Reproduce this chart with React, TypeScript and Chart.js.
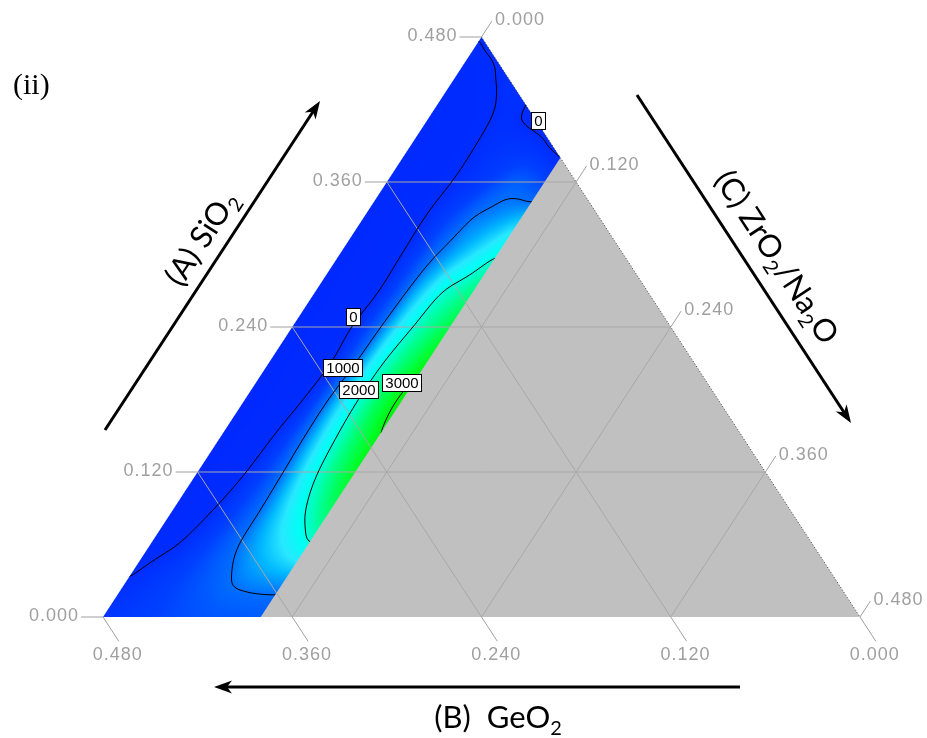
import { useEffect, useRef } from 'react';
import { Chart, registerables } from 'chart.js';

Chart.register(...registerables);

// Ternary composition: SiO2 (A) + GeO2 (B) + ZrO2/Na2O (C) = 0.48
const TOTAL = 0.48;
const TICK_VALUES = [0, 0.12, 0.24, 0.36, 0.48];
const GRID_VALUES = [0.12, 0.24, 0.36];
const MEASURED_C_MAX = 0.1; // samples only cover ZrO2/Na2O <= 0.10

// Response surface on a lattice: rows follow SiO2, columns follow ZrO2/Na2O
const SIO2_NODES = [0, 0.03, 0.06, 0.09, 0.12, 0.15, 0.18, 0.21, 0.24, 0.27, 0.3, 0.33, 0.36, 0.39, 0.42, 0.45, 0.48];
const ZRO2_NODES = [0, 0.01, 0.02, 0.03, 0.04, 0.05, 0.06, 0.07, 0.08, 0.09, 0.1];
const ROW_000 = [250, 320, 400, 480, 560, 640, 700, 740, 770, 790, 800];
const ROW_003 = [30, 175, 320, 465, 610, 755, 900, 1045, 1120, 1170, 1200];
const ROW_006 = [-250, -111, 53, 316, 579, 842, 1086, 1302, 1518, 1734, 1950];
const ROW_009 = [-600, -374, -147, 121, 466, 810, 1161, 1518, 1875, 2197, 2500];
const ROW_012 = [-800, -542, -284, -26, 383, 809, 1256, 1721, 2142, 2496, 2850];
const ROW_015 = [-900, -639, -378, -117, 297, 838, 1350, 1850, 2259, 2630, 2990];
const ROW_018 = [-1000, -737, -474, -211, 137, 822, 1387, 1911, 2328, 2723, 3100];
const ROW_021 = [-950, -709, -469, -228, 33, 686, 1302, 1884, 2257, 2579, 2930];
const ROW_024 = [-900, -666, -432, -199, 86, 657, 1208, 1729, 2126, 2388, 2650];
const ROW_027 = [-850, -637, -425, -212, 0, 568, 1102, 1530, 1957, 2166, 2350];
const ROW_030 = [-800, -597, -395, -192, 23, 482, 940, 1203, 1450, 1700, 1950];
const ROW_033 = [-700, -521, -341, -162, 33, 367, 700, 1011, 1124, 1237, 1350];
const ROW_036 = [-600, -450, -300, -150, -15, 150, 350, 600, 800, 750, 550];
const ROW_039 = [-500, -380, -260, -140, -15, 120, 200, 200, 120, -50, -200];
const ROW_042 = [-400, -300, -200, -100, 20, 100, -60, -200, -300, -400, -500];
const ROW_045 = [-250, -150, -40, 60, 150, 120, -60, -200, -300, -400, -500];
const ROW_048 = [20, 100, 150, 170, 150, 100, -60, -200, -300, -400, -500];
const RESPONSE_ROWS = [
  ROW_000, ROW_003, ROW_006, ROW_009, ROW_012, ROW_015, ROW_018, ROW_021, ROW_024,
  ROW_027, ROW_030, ROW_033, ROW_036, ROW_039, ROW_042, ROW_045, ROW_048,
];

const CONTOUR_LEVELS = [0, 1000, 2000, 3000];
// contour labels, placed at (SiO2, ZrO2/Na2O)
const LABEL_VALUES = [0, 0, 1000, 2000, 3000];
const LABEL_SIO2 = [0.4111, 0.2485, 0.2066, 0.1883, 0.1943];
const LABEL_ZRO2 = [0.07, 0.0343, 0.0487, 0.0678, 0.0923];

// colour scale
const COLOR_STOPS = [-1000, 0, 500, 1000, 1300, 1600, 1900, 2200, 2500, 2800, 3100];
const COLOR_RGB = [
  [0, 40, 255], [0, 44, 255], [0, 64, 255], [0, 110, 255], [0, 180, 255], [40, 232, 255],
  [0, 255, 245], [0, 255, 170], [0, 255, 100], [0, 255, 45], [0, 240, 10],
];

// placement of the triangle on the canvas
const CANVAS_W = 927;
const CANVAS_H = 738;
const PLOT_LEFT = 103;
const PLOT_RIGHT = 860;
const PLOT_BASE = 617;
const PLOT_APEX = 37;
const X_PER_PX = TOTAL / (PLOT_RIGHT - PLOT_LEFT);
const Y_PER_PX = TOTAL / (PLOT_BASE - PLOT_APEX);
const X_MIN = -PLOT_LEFT * X_PER_PX;
const X_MAX = X_MIN + CANVAS_W * X_PER_PX;
const Y_MAX = PLOT_BASE * Y_PER_PX;
const Y_MIN = Y_MAX - CANVAS_H * Y_PER_PX;

const GRID_COLOR = '#a8a8a8';
const TICK_COLOR = '#a0a0a0';
const TICK_FONT = '18px "Liberation Sans", Arial, sans-serif';
const TITLE_FONT_FAMILY = 'Lato, "Open Sans", sans-serif';
const TITLE_SIZE = 31;

const clamp = (v: number, lo: number, hi: number) => Math.min(Math.max(v, lo), hi);

function cubic(p0: number, p1: number, p2: number, p3: number, t: number) {
  return p1 + 0.5 * t * (p2 - p0 + t * (2 * p0 - 5 * p1 + 4 * p2 - p3 + t * (3 * (p1 - p2) + p3 - p0)));
}

function responseAt(A: number, C: number) {
  const aStep = SIO2_NODES[1] - SIO2_NODES[0];
  const cStep = ZRO2_NODES[1] - ZRO2_NODES[0];
  const na = SIO2_NODES.length - 1;
  const nc = ZRO2_NODES.length - 1;
  const fa = clamp((A - SIO2_NODES[0]) / aStep, 0, na);
  const fc = clamp((C - ZRO2_NODES[0]) / cStep, 0, nc);
  const ia = Math.min(Math.floor(fa), na - 1);
  const ic = Math.min(Math.floor(fc), nc - 1);
  const ta = fa - ia;
  const tc = fc - ic;
  const rowVal = (r: number) => {
    const row = RESPONSE_ROWS[clamp(r, 0, na)];
    const g = (k: number) => row[clamp(k, 0, nc)];
    return cubic(g(ic - 1), g(ic), g(ic + 1), g(ic + 2), tc);
  };
  return cubic(rowVal(ia - 1), rowVal(ia), rowVal(ia + 1), rowVal(ia + 2), ta);
}

function colorFor(v: number) {
  if (v <= COLOR_STOPS[0]) return COLOR_RGB[0];
  const last = COLOR_STOPS.length - 1;
  if (v >= COLOR_STOPS[last]) return COLOR_RGB[last];
  let i = 0;
  while (v > COLOR_STOPS[i + 1]) i++;
  const t = (v - COLOR_STOPS[i]) / (COLOR_STOPS[i + 1] - COLOR_STOPS[i]);
  const a = COLOR_RGB[i];
  const b = COLOR_RGB[i + 1];
  return [a[0] + (b[0] - a[0]) * t, a[1] + (b[1] - a[1]) * t, a[2] + (b[2] - a[2]) * t];
}

// straight grid lines of the ternary diagram, in (x = C + A/2, y = A)
function gridDatasets() {
  const sets: any[] = [];
  const line = (pts: { x: number; y: number }[]) => ({
    data: pts,
    showLine: true,
    borderColor: GRID_COLOR,
    borderWidth: 1,
    pointRadius: 0,
    fill: false,
  });
  GRID_VALUES.forEach((a) => {
    sets.push(line([{ x: a / 2, y: a }, { x: TOTAL - a / 2, y: a }]));
  });
  GRID_VALUES.forEach((b) => {
    sets.push(line([{ x: TOTAL - b, y: 0 }, { x: (TOTAL - b) / 2, y: TOTAL - b }]));
  });
  GRID_VALUES.forEach((c) => {
    sets.push(line([{ x: c, y: 0 }, { x: c + (TOTAL - c) / 2, y: TOTAL - c }]));
  });
  sets.push({
    data: [{ x: TOTAL / 2, y: TOTAL }, { x: TOTAL, y: 0 }],
    showLine: true,
    borderColor: '#3c3c3c',
    borderWidth: 1,
    borderDash: [1, 2],
    pointRadius: 0,
    fill: false,
  });
  return sets;
}

function pixelMapper(chart: any) {
  const xs = chart.scales.x;
  const ys = chart.scales.y;
  return (A: number, C: number) => ({ x: xs.getPixelForValue(C + A / 2), y: ys.getPixelForValue(A) });
}

function drawArrow(ctx: CanvasRenderingContext2D, x1: number, y1: number, x2: number, y2: number) {
  const ang = Math.atan2(y2 - y1, x2 - x1);
  const head = 18;
  const half = 6.5;
  ctx.save();
  ctx.strokeStyle = '#000';
  ctx.fillStyle = '#000';
  ctx.lineWidth = 3;
  ctx.beginPath();
  ctx.moveTo(x1, y1);
  ctx.lineTo(x2 - Math.cos(ang) * head * 0.7, y2 - Math.sin(ang) * head * 0.7);
  ctx.stroke();
  ctx.beginPath();
  ctx.moveTo(x2, y2);
  ctx.lineTo(x2 - Math.cos(ang) * head - Math.sin(ang) * half, y2 - Math.sin(ang) * head + Math.cos(ang) * half);
  ctx.lineTo(x2 - Math.cos(ang) * head * 0.72, y2 - Math.sin(ang) * head * 0.72);
  ctx.lineTo(x2 - Math.cos(ang) * head + Math.sin(ang) * half, y2 - Math.sin(ang) * head - Math.cos(ang) * half);
  ctx.closePath();
  ctx.fill();
  ctx.restore();
}

// text with subscripts, centred on (cx, cy) and rotated by angle
function drawTitle(
  ctx: CanvasRenderingContext2D,
  parts: { t: string; sub?: boolean }[],
  cx: number,
  cy: number,
  angle: number,
  size: number,
) {
  const big = `${size}px ${TITLE_FONT_FAMILY}`;
  const small = `${Math.round(size * 0.66)}px ${TITLE_FONT_FAMILY}`;
  let width = 0;
  parts.forEach((p) => {
    ctx.font = p.sub ? small : big;
    width += ctx.measureText(p.t).width;
  });
  ctx.save();
  ctx.translate(cx, cy);
  ctx.rotate(angle);
  ctx.fillStyle = '#000';
  ctx.textBaseline = 'alphabetic';
  ctx.textAlign = 'left';
  let x = -width / 2;
  const base = size * 0.35;
  parts.forEach((p) => {
    ctx.font = p.sub ? small : big;
    ctx.fillText(p.t, x, p.sub ? base + size * 0.22 : base);
    x += ctx.measureText(p.t).width;
  });
  ctx.restore();
}

const ternaryPlugin = {
  id: 'ternaryContour',
  beforeDatasetsDraw(chart: any) {
    const { ctx } = chart;
    const xs = chart.scales.x;
    const ys = chart.scales.y;
    const P = pixelMapper(chart);

    // composition range without samples
    const cm = MEASURED_C_MAX - 0.0015;
    const g1 = P(0, cm);
    const g2 = P(0, TOTAL);
    const g3 = P(TOTAL - cm, cm);
    ctx.save();
    ctx.fillStyle = '#c0c0c0';
    ctx.beginPath();
    ctx.moveTo(g1.x, g1.y);
    ctx.lineTo(g2.x, g2.y);
    ctx.lineTo(g3.x, g3.y);
    ctx.closePath();
    ctx.fill();

    // filled response surface
    const bl = P(0, 0);
    const apex = P(TOTAL, 0);
    const br = P(0, MEASURED_C_MAX);
    const tr = P(TOTAL - MEASURED_C_MAX, MEASURED_C_MAX);
    const px0 = Math.floor(bl.x) - 2;
    const px1 = Math.ceil(Math.max(br.x, tr.x)) + 2;
    const py0 = Math.floor(apex.y) - 2;
    const py1 = Math.ceil(bl.y) + 2;
    const w = px1 - px0;
    const h = py1 - py0;
    const pxPerX = xs.getPixelForValue(1) - xs.getPixelForValue(0);
    const pxPerY = ys.getPixelForValue(0) - ys.getPixelForValue(1);
    const side = Math.hypot(apex.x - bl.x, apex.y - bl.y);
    const kC = (pxPerX * Math.abs(apex.y - bl.y)) / side;
    const off = document.createElement('canvas');
    off.width = w;
    off.height = h;
    const octx = off.getContext('2d')!;
    const img = octx.createImageData(w, h);
    for (let j = 0; j < h; j++) {
      const A = ys.getValueForPixel(py0 + j + 0.5);
      for (let i = 0; i < w; i++) {
        const X = xs.getValueForPixel(px0 + i + 0.5);
        const C = X - A / 2;
        const B = TOTAL - A - C;
        const cov =
          clamp(0.5 + C * kC, 0, 1) *
          clamp(0.5 + (MEASURED_C_MAX - C) * kC, 0, 1) *
          clamp(0.5 + B * kC, 0, 1) *
          clamp(0.5 + A * pxPerY, 0, 1);
        if (cov <= 0) continue;
        const rgb = colorFor(responseAt(clamp(A, 0, TOTAL), clamp(C, 0, MEASURED_C_MAX)));
        const k = (j * w + i) * 4;
        img.data[k] = rgb[0];
        img.data[k + 1] = rgb[1];
        img.data[k + 2] = rgb[2];
        img.data[k + 3] = Math.round(cov * 255);
      }
    }
    octx.putImageData(img, 0, 0);
    ctx.drawImage(off, px0, py0);
    ctx.restore();
  },
  afterDatasetsDraw(chart: any) {
    const { ctx } = chart;
    const xs = chart.scales.x;
    const ys = chart.scales.y;
    const P = pixelMapper(chart);

    // contour lines (marching squares on a fine pixel lattice)
    const bl = P(0, 0);
    const apex = P(TOTAL, 0);
    const br = P(0, MEASURED_C_MAX);
    const tr = P(TOTAL - MEASURED_C_MAX, MEASURED_C_MAX);
    const step = 2;
    const gx0 = Math.floor(bl.x) - 4;
    const gy0 = Math.floor(apex.y) - 4;
    const nx = Math.ceil((Math.max(br.x, tr.x) + 4 - gx0) / step) + 1;
    const ny = Math.ceil((bl.y + 4 - gy0) / step) + 1;
    const vals = new Float64Array(nx * ny);
    for (let j = 0; j < ny; j++) {
      const A = ys.getValueForPixel(gy0 + j * step);
      for (let i = 0; i < nx; i++) {
        const X = xs.getValueForPixel(gx0 + i * step);
        vals[j * nx + i] = responseAt(A, X - A / 2);
      }
    }
    ctx.save();
    ctx.beginPath();
    ctx.moveTo(bl.x, bl.y);
    ctx.lineTo(br.x, br.y);
    ctx.lineTo(tr.x, tr.y);
    ctx.lineTo(apex.x, apex.y);
    ctx.closePath();
    ctx.clip();
    ctx.strokeStyle = '#000';
    ctx.lineWidth = 1;
    ctx.lineJoin = 'round';
    CONTOUR_LEVELS.forEach((L) => {
      ctx.beginPath();
      for (let j = 0; j < ny - 1; j++) {
        for (let i = 0; i < nx - 1; i++) {
          const v00 = vals[j * nx + i];
          const v10 = vals[j * nx + i + 1];
          const v01 = vals[(j + 1) * nx + i];
          const v11 = vals[(j + 1) * nx + i + 1];
          const x0 = gx0 + i * step;
          const y0 = gy0 + j * step;
          const pts: { [k: string]: [number, number] } = {};
          const cross = (va: number, vb: number) => (va - L) * (vb - L) < 0;
          if (cross(v00, v10)) pts.t = [x0 + (step * (L - v00)) / (v10 - v00), y0];
          if (cross(v10, v11)) pts.r = [x0 + step, y0 + (step * (L - v10)) / (v11 - v10)];
          if (cross(v01, v11)) pts.b = [x0 + (step * (L - v01)) / (v11 - v01), y0 + step];
          if (cross(v00, v01)) pts.l = [x0, y0 + (step * (L - v00)) / (v01 - v00)];
          const keys = Object.keys(pts);
          const seg = (a: string, b: string) => {
            ctx.moveTo(pts[a][0], pts[a][1]);
            ctx.lineTo(pts[b][0], pts[b][1]);
          };
          if (keys.length === 2) seg(keys[0], keys[1]);
          else if (keys.length === 4) {
            const center = (v00 + v10 + v01 + v11) / 4;
            if (center > L === v00 > L) {
              seg('t', 'r');
              seg('b', 'l');
            } else {
              seg('t', 'l');
              seg('r', 'b');
            }
          }
        }
      }
      ctx.stroke();
    });
    ctx.restore();

    // contour value labels
    ctx.save();
    ctx.font = '15px "Liberation Sans", Arial, sans-serif';
    ctx.textAlign = 'center';
    ctx.textBaseline = 'middle';
    LABEL_VALUES.forEach((v, i) => {
      const p = P(LABEL_SIO2[i], LABEL_ZRO2[i]);
      const txt = String(v);
      const bw = Math.round(ctx.measureText(txt).width + 6);
      const bh = 17;
      const left = Math.round(p.x - bw / 2) + 0.5;
      const topY = Math.round(p.y - bh / 2) + 0.5;
      ctx.fillStyle = '#fff';
      ctx.fillRect(left, topY, bw, bh);
      ctx.strokeStyle = '#000';
      ctx.lineWidth = 1;
      ctx.strokeRect(left, topY, bw, bh);
      ctx.fillStyle = '#000';
      ctx.fillText(txt, left + bw / 2, topY + bh / 2 + 0.5);
    });
    ctx.restore();

    // axis ticks and tick labels
    const leftDir = { x: apex.x - bl.x, y: apex.y - bl.y };
    const ll = Math.hypot(leftDir.x, leftDir.y);
    leftDir.x /= ll;
    leftDir.y /= ll;
    const brc = P(0, TOTAL);
    const rightDir = { x: brc.x - apex.x, y: brc.y - apex.y };
    const rl = Math.hypot(rightDir.x, rightDir.y);
    rightDir.x /= rl;
    rightDir.y /= rl;
    ctx.save();
    ctx.strokeStyle = TICK_COLOR;
    ctx.fillStyle = TICK_COLOR;
    ctx.lineWidth = 1;
    ctx.font = TICK_FONT;
    (ctx as any).letterSpacing = '1px';
    const tick = (base: { x: number; y: number }, dx: number, dy: number, len: number) => {
      const end = { x: base.x + dx * len, y: base.y + dy * len };
      ctx.beginPath();
      ctx.moveTo(base.x, base.y);
      ctx.lineTo(end.x, end.y);
      ctx.stroke();
      return end;
    };
    TICK_VALUES.forEach((v) => {
      const label = v.toFixed(3);
      // SiO2 on the left side
      const ea = tick(P(v, 0), -1, 0, 22);
      ctx.textAlign = 'right';
      ctx.textBaseline = 'middle';
      ctx.fillText(label, ea.x - 2, ea.y - 1);
      // GeO2 along the base
      const eb = tick(P(0, TOTAL - v), rightDir.x, rightDir.y, 29);
      ctx.textAlign = 'center';
      ctx.textBaseline = 'top';
      ctx.fillText(label, eb.x - 1, eb.y + 5);
      // ZrO2/Na2O on the right side
      const ec = tick(P(TOTAL - v, v), leftDir.x, leftDir.y, 19);
      ctx.textAlign = 'left';
      ctx.textBaseline = 'middle';
      ctx.fillText(label, ec.x + 3, ec.y - 1);
    });
    ctx.restore();

    // axis titles with direction arrows
    const sideAngle = Math.atan2(apex.y - bl.y, apex.x - bl.x);
    drawArrow(ctx, 105, 430, 320, 101);
    drawArrow(ctx, 637, 95, 851, 423);
    drawArrow(ctx, 740, 687, 214, 687);
    drawTitle(ctx, [{ t: '(A) SiO' }, { t: '2', sub: true }], 201, 238, sideAngle, TITLE_SIZE);
    drawTitle(
      ctx,
      [{ t: '(C) ZrO' }, { t: '2', sub: true }, { t: '/Na' }, { t: '2', sub: true }, { t: 'O' }],
      777,
      257,
      -sideAngle,
      TITLE_SIZE,
    );
    drawTitle(ctx, [{ t: '(B)  GeO' }, { t: '2', sub: true }], 498, 717, 0, TITLE_SIZE);

    ctx.save();
    ctx.fillStyle = '#000';
    ctx.font = '30px "Liberation Serif", "Times New Roman", serif';
    ctx.textAlign = 'left';
    ctx.textBaseline = 'alphabetic';
    ctx.fillText('(ii)', 13, 94);
    ctx.restore();
  },
};

export default function App() {
  const canvasRef = useRef<HTMLCanvasElement>(null);
  useEffect(() => {
    const canvas = canvasRef.current;
    if (!canvas) return;
    const chart = new Chart(canvas, {
      type: 'scatter',
      data: { datasets: gridDatasets() },
      options: {
        animation: false,
        responsive: false,
        maintainAspectRatio: false,
        events: [],
        layout: { padding: 0 },
        plugins: {
          legend: { display: false },
          tooltip: { enabled: false },
          title: { display: false },
        },
        scales: {
          x: { type: 'linear', min: X_MIN, max: X_MAX, display: false },
          y: { type: 'linear', min: Y_MIN, max: Y_MAX, display: false },
        },
        elements: { point: { radius: 0 } },
      },
      plugins: [ternaryPlugin],
    } as any);
    return () => chart.destroy();
  }, []);
  return (
    <div style={{ position: 'absolute', left: 0, top: 0, width: CANVAS_W, height: CANVAS_H, background: '#fff' }}>
      <canvas ref={canvasRef} width={CANVAS_W} height={CANVAS_H} style={{ display: 'block' }} />
    </div>
  );
}
